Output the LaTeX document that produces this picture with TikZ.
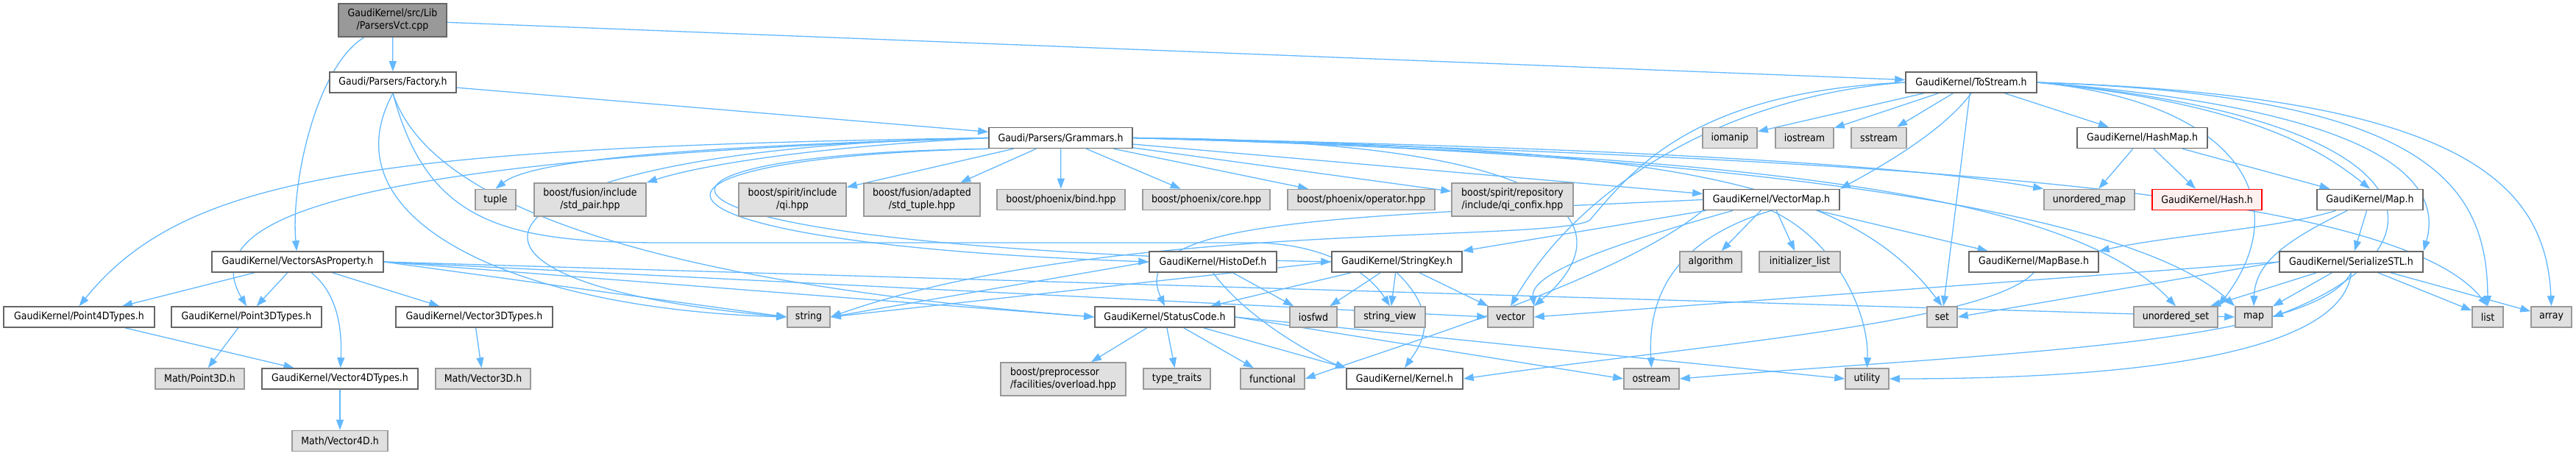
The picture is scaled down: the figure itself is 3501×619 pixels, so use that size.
\documentclass[tikz,border=0pt]{standalone}
\usepackage{fontspec}
\setmainfont{DejaVu Sans Condensed}
\usepackage{tikz}
\usetikzlibrary{arrows.meta}
\definecolor{edgeblue}{HTML}{63B8FF}
\definecolor{hdrline}{HTML}{666666}
\definecolor{sysline}{HTML}{999999}
\definecolor{sysfill}{HTML}{E0E0E0}
\definecolor{srcfill}{HTML}{999999}
\definecolor{missfill}{HTML}{FFF0F0}
\pgfdeclarelayer{edges}
\pgfsetlayers{edges,main}
\begin{document}
\begin{tikzpicture}[x=1pt,y=-1pt,
  box/.style={rectangle,draw,line width=1.6pt,inner sep=0pt,minimum height=28pt,
    font=\fontsize{14}{17}\selectfont,align=center},
  hdr/.style={box,draw=hdrline,fill=white},
  sys/.style={box,draw=sysline,fill=sysfill},
  src/.style={box,draw=hdrline,fill=srcfill},
  missing/.style={box,draw=red,fill=missfill},
  dep/.style={draw=edgeblue,line width=1.3pt,-{Triangle[length=14pt,width=10pt]}}]
\useasboundingbox (0,0) rectangle (3501,619);

% files
\node (root) at (533.5,27.5) [src,minimum width=147pt,minimum height=45pt] {GaudiKernel/src/Lib\\/ParsersVct.cpp};
\node (factory) at (534,112) [hdr,minimum width=172pt] {Gaudi/Parsers/Factory.h};
\node (tostream) at (2679,112) [hdr,minimum width=178pt] {GaudiKernel/ToStream.h};

\node (grammars) at (1441.5,187.5) [hdr,minimum width=195pt] {Gaudi/Parsers/Grammars.h};
\node (iomanip) at (2351,187.5) [sys,minimum width=74pt] {iomanip};
\node (iostream) at (2452.5,187.5) [sys,minimum width=79pt] {iostream};
\node (sstream) at (2553.5,187.5) [sys,minimum width=75pt] {sstream};
\node (hashmap) at (2911.5,187.5) [hdr,minimum width=177pt] {GaudiKernel/HashMap.h};

\node (tuple) at (673.5,271.5) [sys,minimum width=55pt] {tuple};
\node (stdpair) at (802,271.5) [sys,minimum width=152pt,minimum height=45pt] {boost/fusion/include\\/std\_pair.hpp};
\node (qi) at (1077,271.5) [sys,minimum width=146pt,minimum height=45pt] {boost/spirit/include\\/qi.hpp};
\node (stdtuple) at (1253,271.5) [sys,minimum width=158pt,minimum height=45pt] {boost/fusion/adapted\\/std\_tuple.hpp};
\node (bind) at (1442,271.5) [sys,minimum width=174pt] {boost/phoenix/bind.hpp};
\node (core) at (1639.5,271.5) [sys,minimum width=173pt] {boost/phoenix/core.hpp};
\node (operator) at (1850,271.5) [sys,minimum width=200pt] {boost/phoenix/operator.hpp};
\node (confix) at (2055.5,271.5) [sys,minimum width=165pt,minimum height=45pt] {boost/spirit/repository\\/include/qi\_confix.hpp};
\node (vectormap) at (2407.5,271.5) [hdr,minimum width=185pt] {GaudiKernel/VectorMap.h};
\node (unorderedmap) at (2839.5,271.5) [sys,minimum width=123pt] {unordered\_map};
\node (hash) at (2999.5,271.5) [missing,minimum width=149pt] {GaudiKernel/Hash.h};
\node (maph) at (3221,271.5) [hdr,minimum width=144pt] {GaudiKernel/Map.h};

\node (vap) at (404.5,356) [hdr,minimum width=233pt] {GaudiKernel/VectorsAsProperty.h};
\node (histodef) at (1648.5,356) [hdr,minimum width=173pt] {GaudiKernel/HistoDef.h};
\node (stringkey) at (1898.5,356) [hdr,minimum width=177pt] {GaudiKernel/StringKey.h};
\node (algorithm) at (2325,356) [sys,minimum width=84pt] {algorithm};
\node (initlist) at (2446,356) [sys,minimum width=110pt] {initializer\_list};
\node (mapbase) at (2764,356) [hdr,minimum width=176pt] {GaudiKernel/MapBase.h};
\node (serialize) at (3195.5,356) [hdr,minimum width=195pt] {GaudiKernel/SerializeSTL.h};

\node (point4d) at (107.5,431) [hdr,minimum width=205pt] {GaudiKernel/Point4DTypes.h};
\node (point3d) at (335,431) [hdr,minimum width=204pt] {GaudiKernel/Point3DTypes.h};
\node (vector3d) at (644.5,431) [hdr,minimum width=213pt] {GaudiKernel/Vector3DTypes.h};
\node (string) at (1099,431) [sys,minimum width=58pt] {string};
\node (statuscode) at (1583,431) [hdr,minimum width=190pt] {GaudiKernel/StatusCode.h};
\node (iosfwd) at (1785,431) [sys,minimum width=64pt] {iosfwd};
\node (stringview) at (1889,431) [sys,minimum width=96pt] {string\_view};
\node (vector) at (2053,431) [sys,minimum width=62pt] {vector};
\node (set) at (2639.5,431) [sys,minimum width=41pt] {set};
\node (unorderedset) at (2957,431) [sys,minimum width=114pt] {unordered\_set};
\node (map) at (3063,431) [sys,minimum width=50pt] {map};
\node (list) at (3381,431) [sys,minimum width=42pt] {list};
\node (array) at (3467.5,431) [sys,minimum width=55pt] {array};

\node (mathpoint3d) at (271.5,515) [sys,minimum width=121pt] {Math/Point3D.h};
\node (vector4d) at (462,515) [hdr,minimum width=212pt] {GaudiKernel/Vector4DTypes.h};
\node (mathvector3d) at (656.5,515) [sys,minimum width=129pt] {Math/Vector3D.h};
\node (overload) at (1445,515.5) [sys,minimum width=170pt,minimum height=45pt,align=left] {boost/preprocessor\\/facilities/overload.hpp};
\node (typetraits) at (1599.5,515) [sys,minimum width=91pt] {type\_traits};
\node (functional) at (1729.5,515) [sys,minimum width=87pt] {functional};
\node (kernel) at (1909,515) [hdr,minimum width=158pt] {GaudiKernel/Kernel.h};
\node (ostream) at (2244.5,515) [sys,minimum width=75pt] {ostream};
\node (utility) at (2537.5,515) [sys,minimum width=59pt] {utility};

\node (mathvector4d) at (462,599.5) [sys,minimum width=130pt] {Math/Vector4D.h};

\begin{pgfonlayer}{edges}
% ParsersVct.cpp
\draw [dep] (root) -- (factory);
\draw [dep] (root) .. controls (430,90) and (395,250) .. (vap);
\draw [dep] (root) -- (tostream);

% Factory.h
\draw [dep] (factory) -- (grammars);
\draw [dep] (factory.south) .. controls (440,300) and (700,420) .. (string.west);
\draw [dep] (factory.south) .. controls (600,330) and (1100,400) .. (statuscode.west);
\draw [dep] (factory.south) .. controls (580,300) and (680,330) .. (900,330) -- (1700,330) .. controls (1800,330) and (1860,370) .. (stringview.north);

% Grammars.h
\draw [dep] (grammars.west) .. controls (500,200) and (250,240) .. (point4d.north);
\draw [dep] (grammars.west) .. controls (500,215) and (260,290) .. (point3d.north);
\draw [dep] (grammars.west) .. controls (900,200) and (720,220) .. (tuple.north);
\draw [dep] (grammars.west) .. controls (1100,200) and (950,225) .. (stdpair.north east);
\draw [dep] (grammars.west) .. controls (650,200) and (500,380) .. (string.west);
\draw [dep] (grammars.south west) .. controls (800,215) and (820,330) .. (histodef.west);
\draw [dep] (grammars.south west) .. controls (780,210) and (800,335) .. (stringkey.west);
\draw [dep] (grammars) -- (qi);
\draw [dep] (grammars) -- (stdtuple);
\draw [dep] (grammars) -- (bind);
\draw [dep] (grammars) -- (core);
\draw [dep] (grammars) -- (operator);
\draw [dep] (grammars) -- (confix);
\draw [dep] (grammars) -- (vectormap);
\draw [dep] (grammars.east) .. controls (2180,190) and (2200,320) .. (vector.north east);
\draw [dep] (grammars.east) .. controls (2200,200) and (2500,230) .. (set.north);
\draw [dep] (grammars.east) .. controls (2200,200) and (2600,225) .. (unorderedmap.north west);
\draw [dep] (grammars.east) .. controls (2300,210) and (2800,250) .. (unorderedset.north);
\draw [dep] (grammars.east) .. controls (2400,210) and (2900,290) .. (map.north west);
\draw [dep] (grammars.east) .. controls (2500,215) and (3250,250) .. (list.north);

% VectorsAsProperty.h
\draw [dep] (vap) -- (point4d);
\draw [dep] (vap) -- (point3d);
\draw [dep] (vap) -- (vector3d);
\draw [dep] (vap) .. controls (460,400) and (465,450) .. (vector4d);
\draw [dep] (vap.east) -- (string.west);
\draw [dep] (vap.east) -- (statuscode.west);
\draw [dep] (vap.east) -- (vector.west);
\draw [dep] (vap.east) -- (map.west);

\draw [dep] (point4d) -- (vector4d);
\draw [dep] (point3d) -- (mathpoint3d);
\draw [dep] (vector3d) -- (mathvector3d);
\draw [dep] (vector4d) -- (mathvector4d);

% HistoDef.h and StringKey.h
\draw [dep] (histodef.west) -- (string.east);
\draw [dep] (histodef) -- (iosfwd);
\draw [dep] (histodef.south) .. controls (1700,440) and (1800,490) .. (kernel.north west);
\draw [dep] (stringkey.west) -- (string.east);
\draw [dep] (stringkey) -- (statuscode);
\draw [dep] (stringkey) -- (iosfwd);
\draw [dep] (stringkey) -- (stringview);
\draw [dep] (stringkey) -- (vector);
\draw [dep] (stringkey.south) .. controls (1960,430) and (1930,470) .. (kernel.north);

% StatusCode.h
\draw [dep] (statuscode) -- (overload);
\draw [dep] (statuscode) -- (typetraits);
\draw [dep] (statuscode) -- (functional);
\draw [dep] (statuscode) -- (kernel.north west);
\draw [dep] (statuscode.east) -- (ostream.west);
\draw [dep] (statuscode.east) -- (utility.west);

% VectorMap.h
\draw [dep] (vectormap) -- (algorithm);
\draw [dep] (vectormap) -- (initlist);
\draw [dep] (vectormap) -- (stringkey.north east);
\draw [dep] (vectormap) -- (mapbase);
\draw [dep] (vectormap) .. controls (2200,330) and (2080,370) .. (vector.north east);
\draw [dep] (vectormap.south) .. controls (2260,330) and (2240,420) .. (ostream.north);
\draw [dep] (vectormap.south) .. controls (2500,330) and (2540,430) .. (utility.north);
\draw [dep] (vectormap.south west) .. controls (2200,380) and (1900,470) .. (functional.east);
\draw [dep] (vectormap.west) .. controls (1800,295) and (1530,300) .. (statuscode.north);

% ToStream.h
\draw [dep] (tostream) -- (iomanip);
\draw [dep] (tostream) -- (iostream);
\draw [dep] (tostream) -- (sstream);
\draw [dep] (tostream) -- (hashmap);
\draw [dep] (tostream) -- (set);
\draw [dep] (tostream.south) .. controls (2640,180) and (2550,230) .. (vectormap.north east);
\draw [dep] (tostream.west) .. controls (2350,130) and (2150,250) .. (vector.north);
\draw [dep] (tostream.west) .. controls (2300,125) and (2220,230) .. (2160,300) .. controls (2100,330) and (1500,300) .. (string.east);
\draw [dep] (tostream.east) .. controls (3050,140) and (3120,280) .. (unorderedset.north east);
\draw [dep] (tostream.east) .. controls (3300,160) and (3350,330) .. (map.east);
\draw [dep] (tostream.east) .. controls (3050,140) and (3150,200) .. (maph.north);
\draw [dep] (tostream.east) .. controls (3250,150) and (3320,250) .. (serialize.north east);
\draw [dep] (tostream.east) .. controls (3300,130) and (3380,250) .. (list.north);
\draw [dep] (tostream.east) .. controls (3350,130) and (3460,250) .. (array.north);

% HashMap.h, Map.h, MapBase.h
\draw [dep] (hashmap) -- (unorderedmap);
\draw [dep] (hashmap) -- (hash);
\draw [dep] (hashmap) -- (maph);
\draw [dep] (maph) .. controls (3100,310) and (2950,320) .. (mapbase.north east);
\draw [dep] (maph) -- (serialize);
\draw [dep] (maph) .. controls (3100,330) and (3065,360) .. (map.north);
\draw [dep] (mapbase.south) .. controls (2700,440) and (2300,470) .. (kernel.east);

% SerializeSTL.h
\draw [dep] (serialize) -- (unorderedset);
\draw [dep] (serialize) -- (map);
\draw [dep] (serialize) -- (list);
\draw [dep] (serialize) -- (array);
\draw [dep] (serialize.west) -- (vector.east);
\draw [dep] (serialize.west) -- (set.east);
\draw [dep] (serialize.south) .. controls (3140,470) and (2700,480) .. (ostream.east);
\draw [dep] (serialize.south) .. controls (3180,500) and (2800,515) .. (utility.east);
\end{pgfonlayer}
\end{tikzpicture}
\end{document}
